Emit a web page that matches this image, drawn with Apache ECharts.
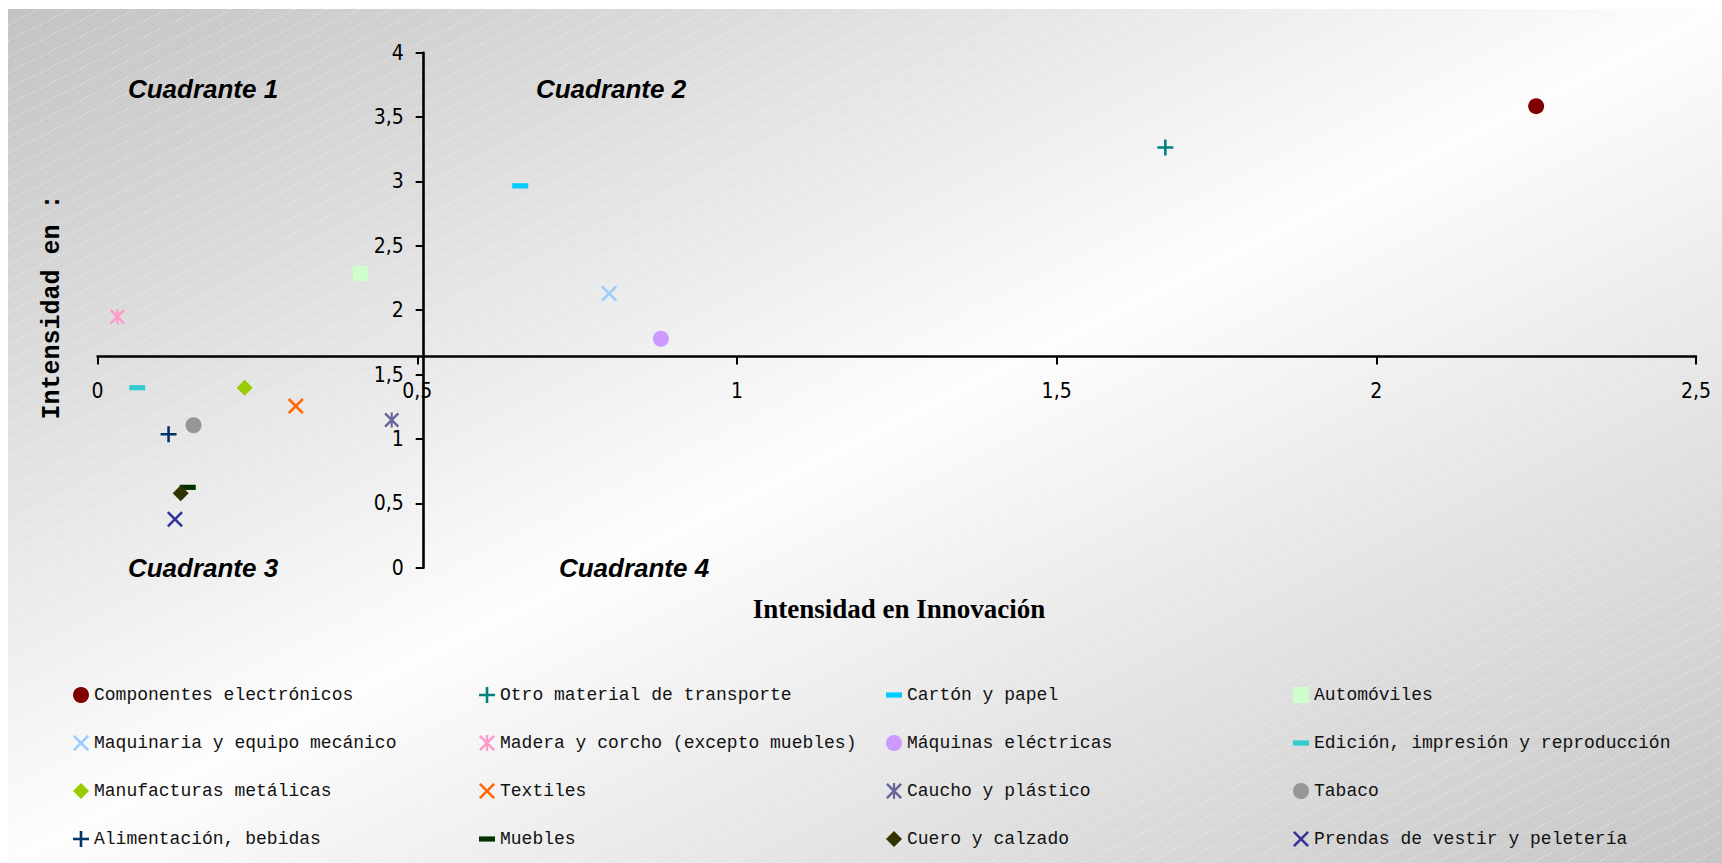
<!DOCTYPE html>
<html>
<head>
<meta charset="utf-8">
<script src="https://cdn.jsdelivr.net/npm/echarts@6/dist/echarts.min.js"></script>
<style>
html,body{margin:0;padding:0;background:#fff;}
#c{width:1722px;height:863px;}
</style>
</head>
<body>
<div id="c"></div>
<script>
// ---------- data ----------
const categories = [
  'Componentes electrónicos', 'Otro material de transporte', 'Cartón y papel', 'Automóviles',
  'Maquinaria y equipo mecánico', 'Madera y corcho (excepto muebles)', 'Máquinas eléctricas', 'Edición, impresión y reproducción',
  'Manufacturas metálicas', 'Textiles', 'Caucho y plástico', 'Tabaco',
  'Alimentación, bebidas', 'Muebles', 'Cuero y calzado', 'Prendas de vestir y peletería'
];
const innovacion = [2.25, 1.67, 0.661, 0.411, 0.80, 0.031, 0.881, 0.062, 0.23, 0.31, 0.46, 0.15, 0.111, 0.141, 0.13, 0.121];
const intensidad = [3.585, 3.264, 2.966, 2.286, 2.13, 1.949, 1.778, 1.398, 1.398, 1.255, 1.147, 1.106, 1.036, 0.624, 0.578, 0.376];
const xTickValues = [0, 0.5, 1, 1.5, 2, 2.5];
const yTickValues = [0, 0.5, 1, 1.5, 2, 2.5, 3, 3.5, 4];
const crossX = 0.51;   // where the vertical axis crosses
const crossY = 1.64;   // where the horizontal axis crosses
const quadrantNames = ['Cuadrante 1', 'Cuadrante 2', 'Cuadrante 3', 'Cuadrante 4'];
const xTitle = 'Intensidad en Innovación';
const yTitle = 'Intensidad en :';

// ---------- styles ----------
const colors = ['#800000', '#008080', '#00CCFF', '#CCFFCC', '#99CCFF', '#FF99CC', '#CC99FF', '#33CCCC',
                '#99CC00', '#FF6600', '#666699', '#969696', '#003366', '#003300', '#333300', '#333399'];
const PLUS = 'path://M0 0M16 16M6.7 0H9.3V6.7H16V9.3H9.3V16H6.7V9.3H0V6.7H6.7Z';
const XMARK = 'path://M1.8 0L8 6.2L14.2 0L16 1.8L9.8 8L16 14.2L14.2 16L8 9.8L1.8 16L0 14.2L6.2 8L0 1.8Z';
const STAR = 'path://M1.8 0L8 6.2L14.2 0L16 1.8L9.8 8L16 14.2L14.2 16L8 9.8L1.8 16L0 14.2L6.2 8L0 1.8ZM6.9 0H9.1V16H6.9Z';
const DASH = 'path://M0 0M16 16M0 5.4H16V10.6H0Z';
const symbols = ['circle', PLUS, DASH, 'rect', XMARK, STAR, 'circle', DASH,
                 'diamond', XMARK, STAR, 'circle', PLUS, DASH, 'diamond', XMARK];
const symbolSizes = [16, 16, 16, 15, 16, 15, 16, 16, 16, 16, 15, 16, 16, 16, 16, 16];

const tickFont = 'Liberation Sans Narrow, Arial Narrow, DejaVu Sans Condensed, sans-serif';
const fmt = v => String(v).replace('.', ',');

// ---------- background (gradient from corner to corner, plus faint hatch) ----------
const bgX = 8, bgY = 9, bgW = 1714, bgH = 854;
const bgCanvas = document.createElement('canvas');
bgCanvas.width = bgW; bgCanvas.height = bgH;
const bctx = bgCanvas.getContext('2d');
bctx.save();
bctx.scale(bgW, bgH);
const g = bctx.createLinearGradient(0, 0, 1, 1);
g.addColorStop(0, '#c3c3c3');
g.addColorStop(0.5, '#fdfdfd');
g.addColorStop(1, '#c6c6c6');
bctx.fillStyle = g;
bctx.fillRect(0, 0, 1, 1);
bctx.restore();
bctx.strokeStyle = 'rgba(255,255,255,0.5)';
bctx.lineWidth = 1;
bctx.setLineDash([2, 2]);
for (let y0 = 0; y0 < bgH + bgW / 2; y0 += 16) {
  bctx.beginPath();
  bctx.moveTo(0, y0);
  bctx.lineTo(bgW, y0 - bgW / 2);
  bctx.stroke();
}
const bgURL = bgCanvas.toDataURL();

const chart = echarts.init(document.getElementById('c'), null, {renderer: 'svg'});

const gridLeft = 97.6, gridRight = 26, gridTop = 52.7, gridBottom = 295.3;

const series = categories.map((name, i) => ({
  type: 'scatter',
  name: name,
  data: [[innovacion[i], intensidad[i]]],
  symbol: symbols[i],
  symbolSize: symbolSizes[i],
  itemStyle: {color: colors[i], opacity: 1},
  emphasis: {disabled: true},
  z: 5
}));

const legendCols = [73, 479, 886, 1293];
const legends = legendCols.map((left, c) => ({
  orient: 'vertical',
  left: left,
  top: 686,
  itemWidth: 16,
  itemHeight: 16,
  itemGap: 30,
  selectedMode: false,
  padding: 0,
  data: [0, 1, 2, 3].map(r => categories[r * 4 + c]),
  textStyle: {fontFamily: 'Liberation Mono, Courier New, monospace', fontSize: 18, color: '#111', lineHeight: 16}
}));

const quadPos = [[203, 89], [611, 89], [203, 568], [634, 568]];

const option = {
  animation: false,
  backgroundColor: '#ffffff',
  grid: {left: gridLeft, right: gridRight, top: gridTop, bottom: gridBottom, containLabel: false, outerBoundsMode: 'none'},
  xAxis: {
    type: 'value', min: 0, max: 2.5, interval: 0.5,
    axisLine: {onZero: false, lineStyle: {color: '#000', width: 2.6}},
    axisTick: {show: true, length: 8, lineStyle: {color: '#000', width: 2}},
    axisLabel: {margin: 24, fontFamily: tickFont, fontSize: 21, color: '#000',
      formatter: v => xTickValues.includes(v) ? fmt(v) : ''},
    splitLine: {show: false}
  },
  yAxis: {
    type: 'value', min: 0, max: 4, interval: 0.5,
    axisLine: {onZero: false, lineStyle: {color: '#000', width: 2.6}},
    axisTick: {show: true, length: 8, lineStyle: {color: '#000', width: 2}},
    axisLabel: {margin: 20, fontFamily: tickFont, fontSize: 21, color: '#000',
      formatter: v => yTickValues.includes(v) ? fmt(v) : ''},
    splitLine: {show: false}
  },
  legend: legends,
  graphic: [
    {type: 'image', z: -100, silent: true, x: bgX, y: bgY,
     style: {image: bgURL, x: 0, y: 0, width: bgW, height: bgH}},
    ...quadrantNames.map((t, i) => ({
      type: 'text', z: 50, silent: true, x: quadPos[i][0], y: quadPos[i][1],
      style: {text: t, fill: '#000', fontFamily: 'Liberation Sans, Arial, sans-serif', fontSize: 26,
              fontWeight: 'bold', fontStyle: 'italic', align: 'center', verticalAlign: 'middle',
              textAlign: 'center', textVerticalAlign: 'middle'}
    })),
    {type: 'text', z: 50, silent: true, x: 899, y: 609,
     style: {text: xTitle, fill: '#000', fontFamily: 'Liberation Serif, Times New Roman, serif', fontSize: 27,
             fontWeight: 'bold', align: 'center', verticalAlign: 'middle', textAlign: 'center', textVerticalAlign: 'middle'}},
    {type: 'text', z: 50, silent: true, x: 52, y: 307, rotation: Math.PI / 2,
     style: {text: yTitle, fill: '#000', fontFamily: 'Liberation Mono, Courier New, monospace', fontSize: 25,
             fontWeight: 'bold', align: 'center', verticalAlign: 'middle', textAlign: 'center', textVerticalAlign: 'middle'}}
  ],
  series: series
};

chart.setOption(option);

// place the axes where they cross (Excel-style crossing values)
const pxCross = chart.convertToPixel({xAxisIndex: 0}, crossX);
const pxLeft = chart.convertToPixel({xAxisIndex: 0}, 0);
const pyCross = chart.convertToPixel({yAxisIndex: 0}, crossY);
const pyBottom = chart.convertToPixel({yAxisIndex: 0}, 0);
chart.setOption({
  xAxis: {offset: -(pyBottom - pyCross)},
  yAxis: {offset: -(pxCross - pxLeft)}
});
</script>
</body>
</html>
